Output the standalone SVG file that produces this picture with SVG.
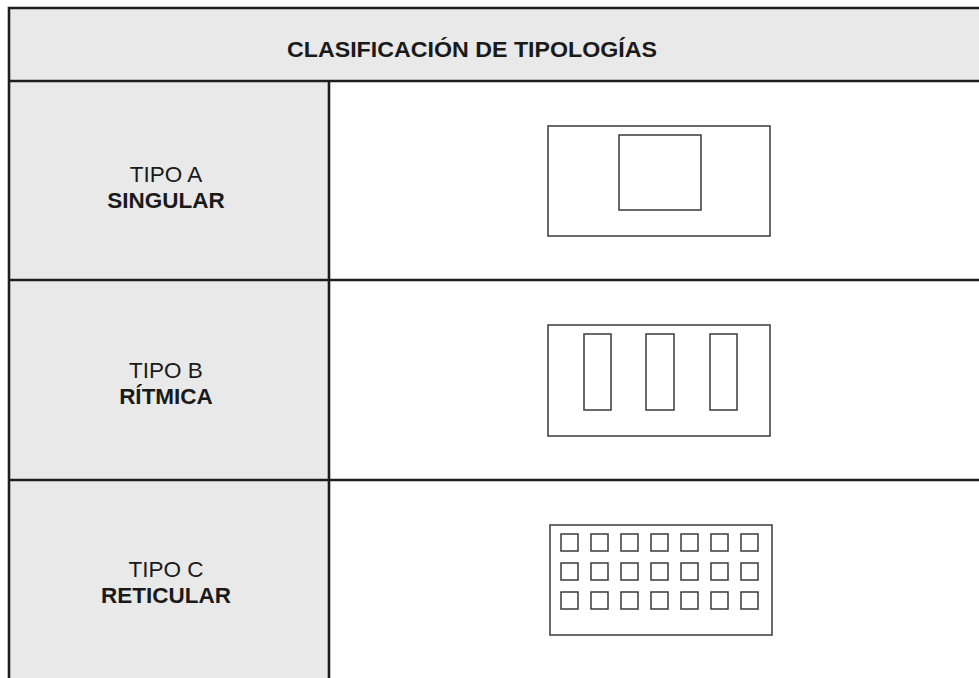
<svg xmlns="http://www.w3.org/2000/svg" width="979" height="678" viewBox="0 0 979 678">
<style>
.bg{fill:#e9e9e9}
.grid{stroke:#1e1e1e;stroke-width:2.6;fill:none}
.sh{fill:none;stroke:#3a3a3a;stroke-width:1.5}
.t{font-family:"Liberation Sans",Arial,sans-serif;font-size:22.5px;fill:#1a1a1a;text-anchor:middle}
.b{font-weight:bold}
</style>
<rect width="979" height="678" fill="#ffffff"/>
<g id="header">
<rect class="bg" x="9" y="8" width="975" height="73"/>
<text class="t b" x="472" y="57" font-size="24" textLength="370" lengthAdjust="spacingAndGlyphs">CLASIFICACIÓN DE TIPOLOGÍAS</text>
</g>
<g id="label-a">
<rect class="bg" x="9" y="81" width="320" height="199"/>
<text class="t" x="166" y="182">TIPO A</text>
<text class="t b" x="166" y="208">SINGULAR</text>
</g>
<g id="label-b">
<rect class="bg" x="9" y="280" width="320" height="200"/>
<text class="t" x="166" y="378">TIPO B</text>
<text class="t b" x="166" y="404">RÍTMICA</text>
</g>
<g id="label-c">
<rect class="bg" x="9" y="480" width="320" height="200"/>
<text class="t" x="166" y="577">TIPO C</text>
<text class="t b" x="166" y="603">RETICULAR</text>
</g>
<g id="grid">
<path class="grid" d="M9,690 V8 H990 M9,81 H990 M329,81 V690 M9,280 H990 M9,480 H990"/>
</g>
<g id="shape-a">
<rect class="sh" x="548" y="126" width="222" height="110"/>
<rect class="sh" x="619" y="135" width="82" height="75"/>
</g>
<g id="shape-b">
<rect class="sh" x="548" y="325" width="222" height="111"/>
<rect class="sh" x="584" y="334" width="27" height="76"/>
<rect class="sh" x="646" y="334" width="28" height="76"/>
<rect class="sh" x="710" y="334" width="27" height="76"/>
</g>
<g id="shape-c">
<rect class="sh" x="550" y="525" width="222" height="110"/>
<g id="cells">
<rect class="sh" x="561" y="534" width="17" height="17"/><rect class="sh" x="591" y="534" width="17" height="17"/><rect class="sh" x="621" y="534" width="17" height="17"/><rect class="sh" x="651" y="534" width="17" height="17"/><rect class="sh" x="681" y="534" width="17" height="17"/><rect class="sh" x="711" y="534" width="17" height="17"/><rect class="sh" x="741" y="534" width="17" height="17"/>
<rect class="sh" x="561" y="563" width="17" height="17"/><rect class="sh" x="591" y="563" width="17" height="17"/><rect class="sh" x="621" y="563" width="17" height="17"/><rect class="sh" x="651" y="563" width="17" height="17"/><rect class="sh" x="681" y="563" width="17" height="17"/><rect class="sh" x="711" y="563" width="17" height="17"/><rect class="sh" x="741" y="563" width="17" height="17"/>
<rect class="sh" x="561" y="592" width="17" height="17"/><rect class="sh" x="591" y="592" width="17" height="17"/><rect class="sh" x="621" y="592" width="17" height="17"/><rect class="sh" x="651" y="592" width="17" height="17"/><rect class="sh" x="681" y="592" width="17" height="17"/><rect class="sh" x="711" y="592" width="17" height="17"/><rect class="sh" x="741" y="592" width="17" height="17"/>
</g>
</g>
</svg>
